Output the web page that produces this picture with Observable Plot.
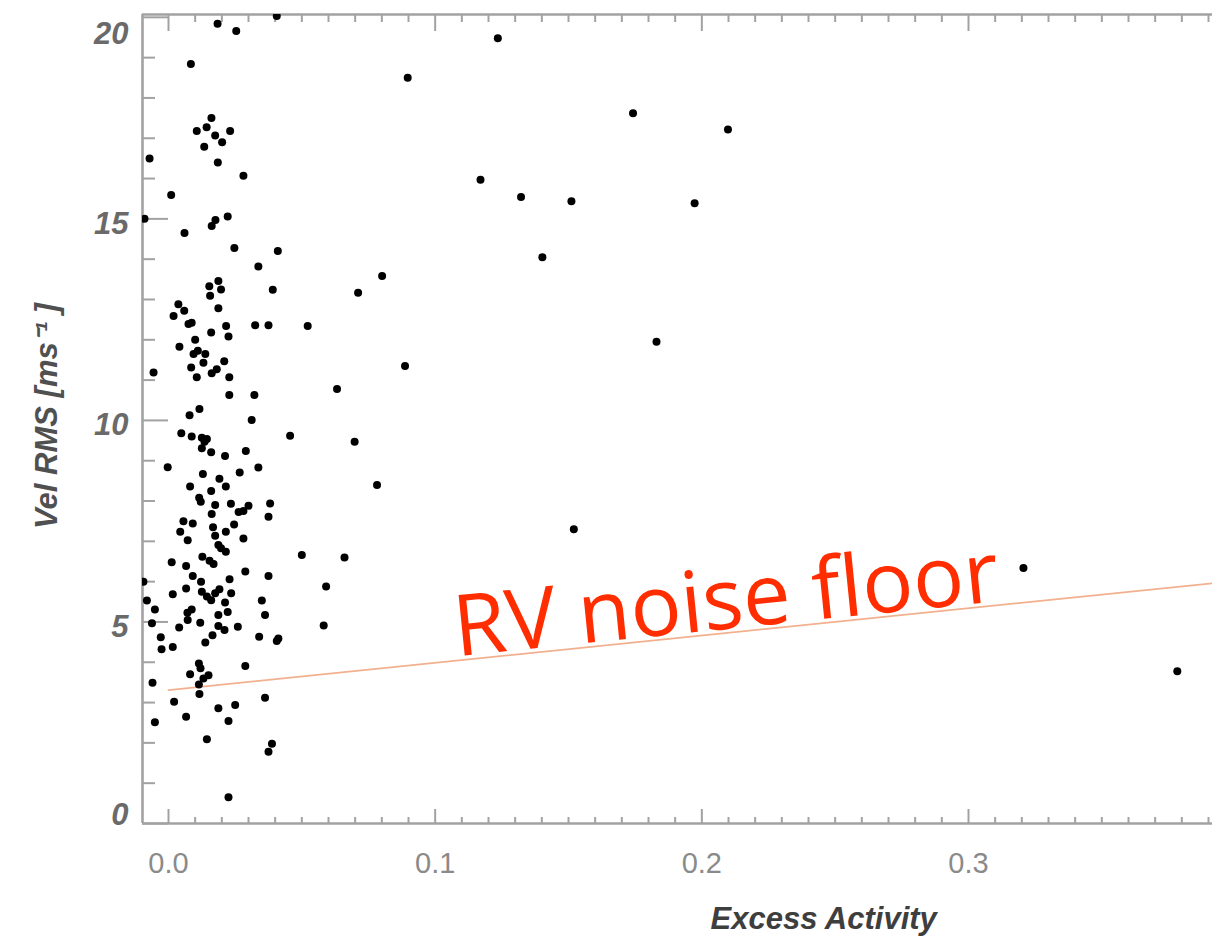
<!DOCTYPE html>
<html>
<head>
<meta charset="utf-8">
<script src="https://cdn.jsdelivr.net/npm/d3@7"></script>
<script src="https://cdn.jsdelivr.net/npm/@observablehq/plot@0.6"></script>
<style>
  html, body { margin: 0; padding: 0; background: #fff; }
  #chart svg { display: block; }
</style>
</head>
<body>
<div id="chart"></div>
<script>
// ---------- data ----------
const activity = [
  0.0184,0.0254,0.0406,0.0084,0.0161,0.0143,0.0106,0.0231,0.0175,0.0201,0.0134,
  -0.0071,0.0185,0.0281,0.0010,-0.0090,0.0222,0.0176,0.0162,0.0060,0.0247,0.0410,0.0337,0.0187,0.0153,
  0.0197,0.0391,0.0156,0.0037,0.0059,0.0187,0.0019,0.0075,0.0087,0.0216,0.0325,0.0375,0.0522,0.0160,0.0100,0.0225,0.0041,0.0110,0.0094,0.0138,0.0131,0.0209,-0.0056,0.0085,0.0181,0.0162,0.0106,0.0228,0.0228,0.0322,0.0116,0.0079,
  0.0312,0.0048,0.0087,0.0125,0.0144,0.0135,0.0125,0.0456,0.0160,0.0212,0.0290,-0.0003,0.0337,0.0129,0.0267,0.0191,0.0081,0.0215,0.0160,0.0115,0.0121,0.0175,0.0234,0.0300,0.0381,0.0162,0.0263,0.0281,0.0375,0.0056,0.0091,0.0246,0.0167,0.0044,0.0215,0.0175,0.0072,0.0281,0.0187,0.0197,0.0215,0.0127,0.0500,
  0.0012,0.0066,0.0154,0.0169,0.0288,0.0375,0.0091,0.0122,-0.0094,0.0229,0.0066,0.0016,0.0125,0.0191,0.0175,0.0235,0.0144,0.0160,-0.0081,0.0350,0.0212,-0.0051,0.0087,0.0071,0.0222,0.0187,0.0362,0.0072,-0.0062,0.0119,0.0187,0.0260,0.0040,0.0210,0.0165,-0.0029,0.0340,0.0412,0.0406,0.0138,-0.0026,0.0016,0.0288,0.0114,0.0120,0.0081,0.0150,0.0131,-0.0060,0.0114,
  0.0116,0.0021,0.0362,0.0250,0.0187,0.0066,-0.0051,0.0225,0.0144,0.0388,0.0375,0.0225,
  0.1235,0.0897,0.1742,0.2098,0.1170,0.1322,0.1511,0.1973,0.1402,0.0801,0.0711,0.1830,0.0887,0.0632,0.0698,0.0782,0.1520,0.0660,0.0591,0.0582,0.3206,0.3783
];
const velRms = [
  19.84,19.66,20.03,18.84,17.50,17.27,17.18,17.18,17.07,16.90,16.79,
  16.50,16.40,16.07,15.59,15.00,15.06,14.97,14.82,14.65,14.28,14.20,13.82,13.46,13.33,
  13.25,13.24,13.09,12.88,12.72,12.78,12.59,12.39,12.42,12.34,12.36,12.36,12.34,12.18,12.00,12.08,11.83,11.73,11.65,11.65,11.43,11.47,11.19,11.31,11.27,11.17,11.07,11.07,10.63,10.63,10.28,10.13,
  10.01,9.68,9.60,9.57,9.54,9.47,9.31,9.62,9.21,9.12,9.24,8.84,8.83,8.67,8.71,8.55,8.36,8.36,8.25,8.08,7.98,7.90,7.93,7.88,7.94,7.68,7.73,7.75,7.61,7.50,7.44,7.42,7.35,7.24,7.24,7.14,7.03,7.07,6.91,6.83,6.74,6.62,6.66,
  6.48,6.39,6.52,6.44,6.25,6.14,6.14,6.00,6.00,6.06,5.83,5.69,5.75,5.81,5.71,5.71,5.63,5.54,5.53,5.53,5.48,5.31,5.31,5.23,5.25,5.17,5.17,5.05,4.97,4.98,4.90,4.88,4.86,4.80,4.67,4.62,4.63,4.59,4.53,4.49,4.32,4.38,3.91,3.97,3.85,3.70,3.68,3.60,3.49,3.45,
  3.21,3.02,3.12,2.94,2.86,2.65,2.51,2.54,2.09,1.98,1.78,0.65,
  19.48,18.50,17.62,17.22,15.97,15.54,15.44,15.39,14.05,13.58,13.17,11.95,11.35,10.78,9.47,8.40,7.30,6.60,5.88,4.91,6.34,3.78
];

// RV noise floor line (two end points)
const noiseActivity = [0, 0.3915];
const noiseVel = [3.31, 5.96];

// annotation
const noteText = "RV noise floor";
const noteActivity = 0.108;
const noteVel = 4.15;

// axes
const xDomain = [-0.00975, 0.3915];
const yDomain = [0, 20.07];
const xTicks = [0, 0.1, 0.2, 0.3];
const xTickLabels = ["0.0", "0.1", "0.2", "0.3"];
const yTicks = [0, 5, 10, 15, 20];
const yTickLabels = ["0", "5", "10", "15", "20"];
const xTitle = "Excess Activity";
const yTitle = "Vel RMS [ms\u207B\u00B9 ]";

// ---------- build ----------
const points = activity.map((a, i) => ({a, v: velRms[i]}));
const noise = noiseActivity.map((a, i) => ({a, v: noiseVel[i]}));
const xMinor = d3.range(1, 40).filter(i => i % 10 !== 0).map(i => i / 100);
const yMinor = d3.range(1, 20).filter(i => i % 5 !== 0);
const yLab = yTicks.map((v, i) => ({v, label: yTickLabels[i]}));
const xLab = xTicks.map((v, i) => ({v, label: xTickLabels[i]}));

const W = 1212, H = 938, ML = 142, MR = 0, MT = 14, MB = 115;
const FW = W - ML - MR, FH = H - MT - MB;
const axisGray = "#a2a2a2";
const sans = "Liberation Sans, Arial, Helvetica, sans-serif";

const yLabelStyle = {
  y: "v", text: "label", frameAnchor: "left", textAnchor: "end", dx: -14,
  fontFamily: sans, fontSize: 31, fontWeight: "bold", fontStyle: "italic", fill: "#6a6a6a"
};

const chart = Plot.plot({
  width: W, height: H,
  marginLeft: ML, marginRight: MR, marginTop: MT, marginBottom: MB,
  x: {domain: xDomain, axis: null},
  y: {domain: yDomain, axis: null},
  style: {background: "#fff", overflow: "visible"},
  marks: [
    // inward ticks: left axis
    Plot.tickY(yMinor, {y: d => d, insetRight: FW - 13, stroke: axisGray, strokeWidth: 2}),
    Plot.tickY(yTicks, {y: d => d, insetRight: FW - 26, stroke: axisGray, strokeWidth: 2}),
    // bottom axis ticks
    Plot.tickX(xMinor, {x: d => d, insetTop: FH - 6, stroke: axisGray, strokeWidth: 2}),
    Plot.tickX(xTicks, {x: d => d, insetTop: FH - 14, stroke: axisGray, strokeWidth: 2}),
    // top axis ticks
    Plot.tickX(xMinor, {x: d => d, insetBottom: FH - 8, stroke: axisGray, strokeWidth: 2}),
    Plot.tickX(xTicks, {x: d => d, insetBottom: FH - 17, stroke: axisGray, strokeWidth: 2}),
    // axis lines
    Plot.ruleY([yDomain[0], yDomain[1]], {stroke: axisGray, strokeWidth: 2.6}),
    Plot.ruleX([xDomain[0]], {stroke: axisGray, strokeWidth: 2.6}),
    // noise floor line
    Plot.line(noise, {x: "a", y: "v", stroke: "#f2b08e", strokeWidth: 1.8}),
    // data
    Plot.dot(points, {x: "a", y: "v", r: 4, fill: "#000", stroke: "none", clip: true}),
    // y tick labels
    Plot.text(yLab, {...yLabelStyle, filter: d => d.v === 20, dy: 17}),
    Plot.text(yLab, {...yLabelStyle, filter: d => d.v > 0 && d.v < 20, dy: 5}),
    Plot.text(yLab, {...yLabelStyle, filter: d => d.v === 0, dy: -8}),
    // x tick labels
    Plot.text(xLab, {x: "v", text: "label", frameAnchor: "bottom", dy: 49,
      fontFamily: sans, fontSize: 29, fill: "#8a8a8a"}),
    // axis titles
    Plot.text([xTitle], {frameAnchor: "bottom-left", textAnchor: "start", lineAnchor: "middle",
      dx: 568, dy: 96, fontFamily: sans, fontSize: 31, fontWeight: "bold", fontStyle: "italic", fill: "#3e3e3e"}),
    Plot.text([yTitle], {frameAnchor: "left", textAnchor: "middle", lineAnchor: "middle", rotate: -90,
      dx: -95, dy: -3, fontFamily: sans, fontSize: 31, fontWeight: "bold", fontStyle: "italic", fill: "#505050"}),
    // annotation
    Plot.text([noteText], {x: () => noteActivity, y: () => noteVel, textAnchor: "start", lineAnchor: "bottom",
      rotate: -5.8, fontFamily: "Open Sans, Noto Sans, sans-serif", fontSize: 85, fontWeight: 500, fill: "#ff2d00"})
  ]
});
document.getElementById("chart").append(chart);
</script>
</body>
</html>
